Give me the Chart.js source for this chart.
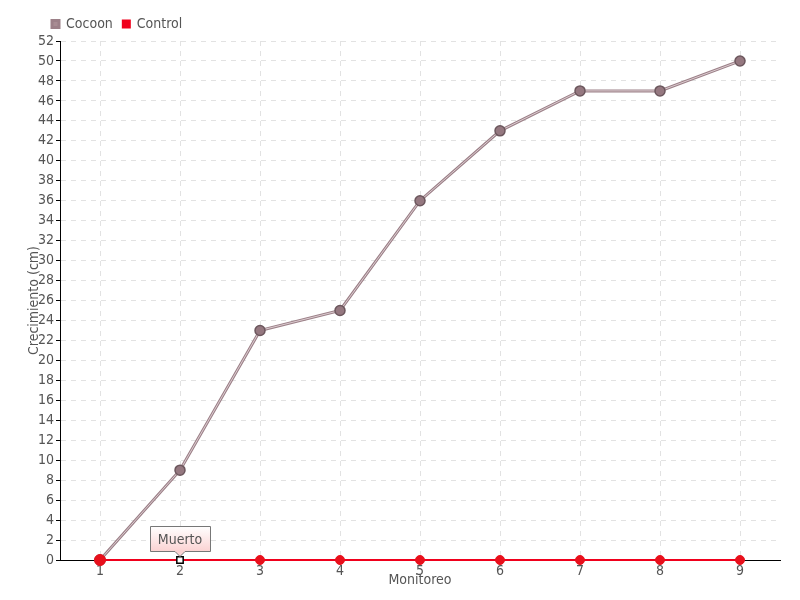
<!DOCTYPE html>
<html>
<head>
<meta charset="utf-8">
<script src="https://cdn.jsdelivr.net/npm/chart.js@4"></script>
<style>
  html, body { margin: 0; padding: 0; background: #fff; }
  #wrap { width: 800px; height: 600px; }
</style>
</head>
<body>
<div id="wrap"><canvas id="chart" width="800" height="600"></canvas></div>
<script>
// datos del gráfico
var monitoreos = ['1', '2', '3', '4', '5', '6', '7', '8', '9'];
var cocoon = [0, 9, 23, 25, 36, 43, 47, 47, 50];
var control = [0, 0, 0, 0, 0, 0, 0, 0, 0];
var nota = 'Muerto';
var notaIndice = 1;

var FONT = '"Liberation Sans Narrow", "DejaVu Sans Condensed", sans-serif';
Chart.defaults.font.family = FONT;
Chart.defaults.color = '#555';

// mueve la leyenda a la derecha del eje
function moverLeyenda(chart) {
  if (chart.legend) chart.legend.left = 42;
}

// caja "Muerto" sobre el punto del control
function dibujarNota(chart) {
  var meta = chart.getDatasetMeta(2);
  var pt = meta.data[notaIndice];
  if (!pt) return;
  var c = chart.ctx;
  var w = 60, h = 25;
  var x = Math.round(pt.x - w / 2) + 0.5;
  var y = Math.round(pt.y - 9 - h) + 0.5;
  c.save();
  var g = c.createLinearGradient(0, y, 0, y + h);
  g.addColorStop(0, '#ffffff');
  g.addColorStop(1, '#fbd2d2');
  c.beginPath();
  c.moveTo(x, y);
  c.lineTo(x + w, y);
  c.lineTo(x + w, y + h);
  c.lineTo(pt.x + 5, y + h);
  c.lineTo(pt.x, y + h + 5);
  c.lineTo(pt.x - 5, y + h);
  c.lineTo(x, y + h);
  c.closePath();
  c.fillStyle = g;
  c.fill();
  c.strokeStyle = '#777';
  c.lineWidth = 1;
  c.stroke();
  c.fillStyle = '#555';
  c.font = '14px ' + FONT;
  c.textAlign = 'center';
  c.textBaseline = 'middle';
  c.fillText(nota, pt.x, y + h / 2 + 1);
  c.restore();
}

var ctx = document.getElementById('chart').getContext('2d');
var chart = new Chart(ctx, {
  type: 'line',
  data: {
    labels: monitoreos,
    datasets: [{
      label: 'Cocoon',
      data: cocoon,
      borderColor: '#9c8088',
      backgroundColor: '#a88c93',
      borderWidth: 3,
      pointRadius: 0,
      fill: false,
      clip: false,
      order: 3
    }, {
      label: '_cocoon',
      data: cocoon,
      borderColor: '#dccdd1',
      borderWidth: 1,
      pointRadius: 5,
      pointBackgroundColor: '#957880',
      pointBorderColor: '#6c575d',
      pointBorderWidth: 1.5,
      fill: false,
      clip: false,
      order: 2
    }, {
      label: 'Control',
      data: control,
      borderColor: '#f0001c',
      backgroundColor: '#f0001c',
      borderWidth: 2,
      pointRadius: function(c) { return c.dataIndex === 0 ? 5.5 : 4.5; },
      pointStyle: function(c) { return c.dataIndex === notaIndice ? 'rect' : 'circle'; },
      pointBackgroundColor: function(c) { return c.dataIndex === notaIndice ? '#ffffff' : '#e8101c'; },
      pointBorderColor: function(c) { return c.dataIndex === notaIndice ? '#000000' : '#e8101c'; },
      pointBorderWidth: function(c) { return c.dataIndex === notaIndice ? 1.5 : 1; },
      fill: false,
      clip: false,
      order: 1
    }]
  },
  options: {
    responsive: false,
    animation: false,
    layout: { padding: { top: 7, left: 0, right: 20, bottom: 0 } },
    plugins: {
      legend: {
        position: 'top',
        align: 'start',
        labels: {
          boxWidth: 7,
          boxHeight: 7,
          padding: 10,
          color: '#555',
          font: { size: 14 },
          filter: function(item) { return item.text.charAt(0) !== '_'; },
          sort: function(a, b) { return a.datasetIndex - b.datasetIndex; }
        }
      },
      tooltip: { enabled: false }
    },
    scales: {
      x: {
        offset: true,
        grid: {
          offset: false,
          color: '#e2e2e2',
          drawTicks: false
        },
        border: { color: '#000', width: 1, dash: [5, 5] },
        ticks: { padding: 3, color: '#555', font: { size: 14 } },
        title: { display: true, text: 'Monitoreo', color: '#555', font: { size: 14 }, padding: { top: 11, bottom: 11 } },
        afterFit: function(s) { s.height = 40; }
      },
      y: {
        min: 0,
        max: 52,
        grid: {
          color: '#e2e2e2',
          tickColor: '#000',
          tickLength: 4,
          tickBorderDash: []
        },
        border: { color: '#000', width: 1, dash: [5, 5] },
        ticks: { stepSize: 2, autoSkip: false, padding: 2, color: '#555', font: { size: 14 } },
        title: { display: true, text: 'Crecimiento (cm)', color: '#555', font: { size: 14 }, padding: { top: 26, bottom: 26 } },
        afterFit: function(s) { s.width = 60; }
      }
    }
  },
  plugins: [{
    afterLayout: moverLeyenda,
    afterDatasetsDraw: dibujarNota
  }]
});
</script>
</body>
</html>
